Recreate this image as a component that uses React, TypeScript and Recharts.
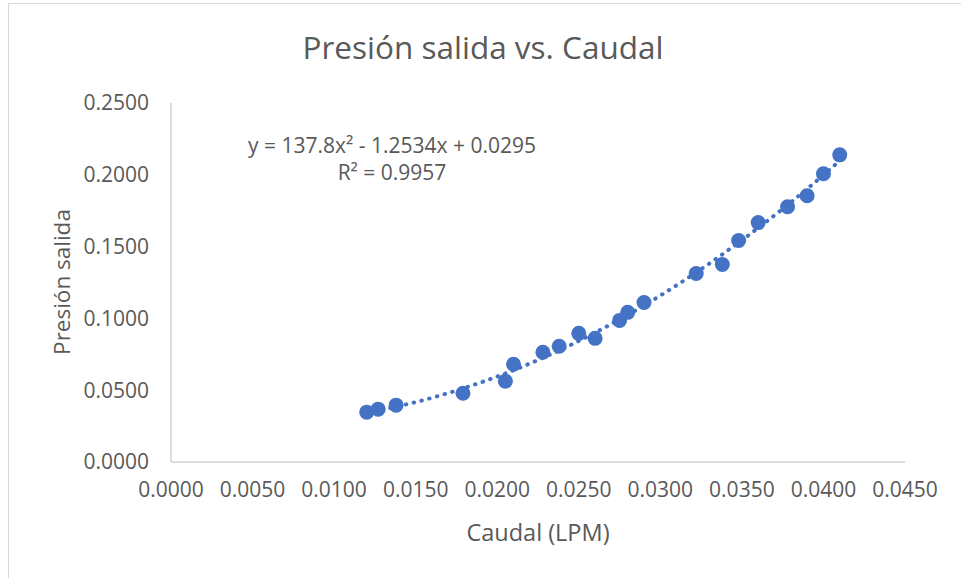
import React from 'react';
import {
  ComposedChart,
  Scatter,
  Line,
  XAxis,
  YAxis,
} from 'recharts';

// measured points (Caudal LPM, Presión salida)
const caudal = [
  0.0120, 0.0127, 0.0138, 0.0179, 0.0205, 0.0210, 0.0228, 0.0238, 0.0250, 0.0260, 0.0275,
  0.0280, 0.0290, 0.0322, 0.0338, 0.0348, 0.0360, 0.0378, 0.0390, 0.0400, 0.0410,
];
const presion = [
  0.0347, 0.0368, 0.0396, 0.0479, 0.0563, 0.0681, 0.0764, 0.0806, 0.0896, 0.0861, 0.0986,
  0.1042, 0.1111, 0.1313, 0.1375, 0.1542, 0.1667, 0.1778, 0.1854, 0.2007, 0.2139,
];

// polynomial trendline
const trendX = [0.012, 0.015, 0.018, 0.021, 0.024, 0.027, 0.030, 0.033, 0.036, 0.039, 0.041];
const trendY = [0.0343, 0.0417, 0.0516, 0.0639, 0.0788, 0.0961, 0.1159, 0.1382, 0.1630, 0.1902, 0.2098];

const xTicks = [0, 0.005, 0.01, 0.015, 0.02, 0.025, 0.03, 0.035, 0.04, 0.045];
const yTicks = [0, 0.05, 0.1, 0.15, 0.2, 0.25];

const points = caudal.map((x, i) => ({ x, y: presion[i] }));
const trend = trendX.map((x, i) => ({ x, y: trendY[i] }));

const BLUE = '#4472C4';
const TEXT = '#595959';
const FONT = '"Open Sans", sans-serif';

const Dot = (props: any) => <circle cx={props.cx} cy={props.cy} r={7.5} fill={BLUE} />;

export default function App() {
  const tickStyle = { fill: TEXT, fontSize: 21, fontFamily: FONT };
  return (
    <div style={{ position: 'relative', width: 961, height: 578, background: '#fff', fontFamily: FONT }}>
      <style>{`body{margin:0}`}</style>
      <div style={{ position: 'absolute', left: 8, top: 3, width: 960, height: 580, border: '1.5px solid #D9D9D9', boxSizing: 'border-box' }} />
      <ComposedChart
        width={961}
        height={578}
        margin={{ top: 103, right: 56, bottom: 56, left: 91 }}
      >
        <XAxis
          type="number"
          dataKey="x"
          domain={[0, 0.045]}
          ticks={xTicks}
          tickFormatter={(v: number) => v.toFixed(4)}
          tick={tickStyle}
          tickLine={false}
          tickSize={0}
          tickMargin={20}
          axisLine={{ stroke: '#D0D0D0', strokeWidth: 1.5 }}
          height={60}
          allowDataOverflow
        />
        <YAxis
          type="number"
          dataKey="y"
          domain={[0, 0.25]}
          ticks={yTicks}
          tickFormatter={(v: number) => v.toFixed(4)}
          tick={tickStyle}
          tickLine={false}
          tickSize={0}
          tickMargin={22}
          axisLine={{ stroke: '#D0D0D0', strokeWidth: 1.5 }}
          width={80}
        />
        <Line
          data={trend}
          dataKey="y"
          type="monotone"
          stroke={BLUE}
          strokeWidth={4}
          strokeDasharray="0.5 7.5"
          strokeLinecap="round"
          dot={false}
          activeDot={false}
          isAnimationActive={false}
        />
        <Scatter data={points} dataKey="y" fill={BLUE} shape={Dot} isAnimationActive={false} />
      </ComposedChart>
      <div style={{ position: 'absolute', left: 0, width: 966, top: 26, textAlign: 'center', fontSize: 31.5, color: TEXT, lineHeight: '42px' }}>
        Presión salida vs. Caudal
      </div>
      <div style={{ position: 'absolute', left: 392 - 200, width: 400, top: 132, textAlign: 'center', fontSize: 21, color: TEXT, lineHeight: '27px' }}>
        y = 137.8x² - 1.2534x + 0.0295
        <br />
        R² = 0.9957
      </div>
      <div style={{ position: 'absolute', left: 338, width: 400, top: 517, textAlign: 'center', fontSize: 23.5, color: TEXT, lineHeight: '30px' }}>
        Caudal (LPM)
      </div>
      <div
        style={{
          position: 'absolute', left: 62 - 150, top: 282 - 15, width: 300, height: 30,
          textAlign: 'center', fontSize: 22.5, color: TEXT, lineHeight: '30px',
          transform: 'rotate(-90deg)',
        }}
      >
        Presión salida
      </div>
    </div>
  );
}
